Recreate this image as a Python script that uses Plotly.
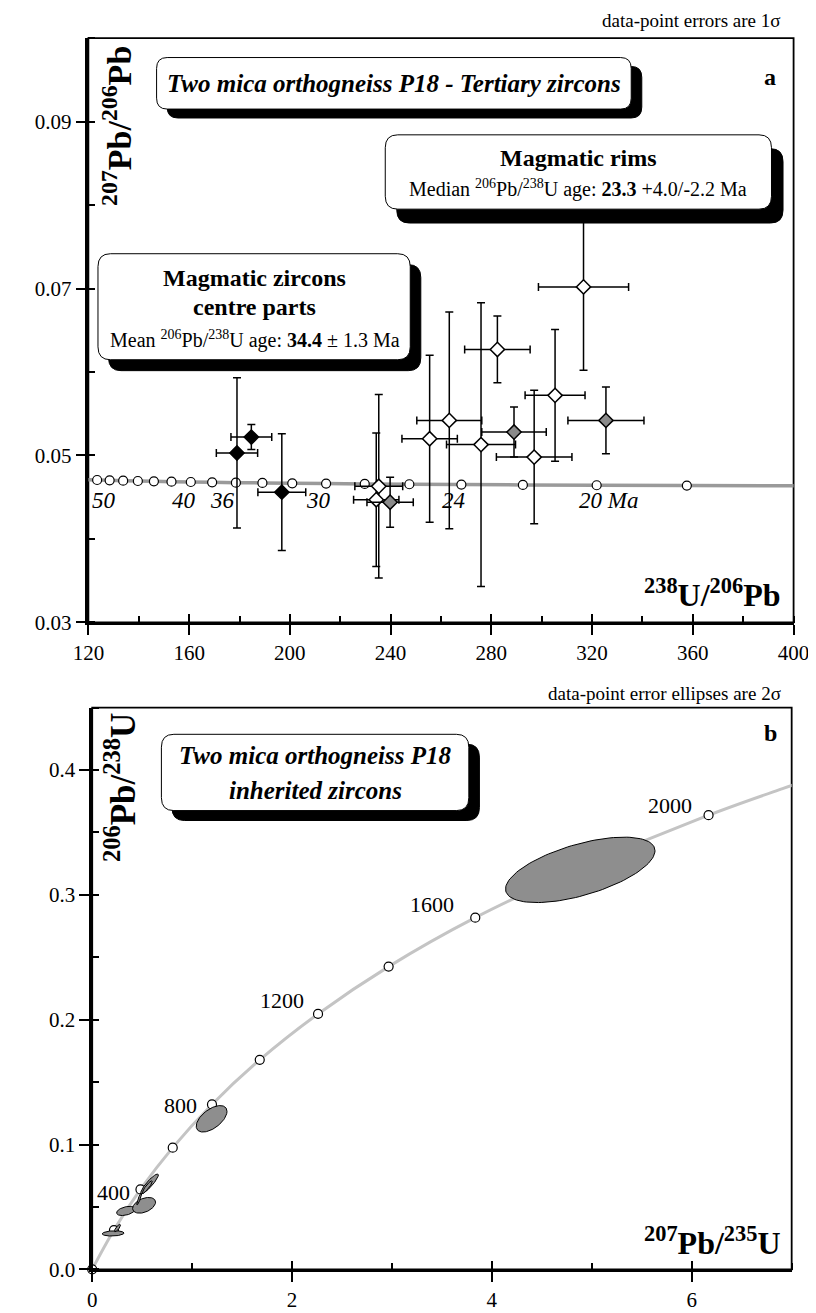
import numpy as np
import plotly.graph_objects as go

W, H = 816, 1313
FONT = "Liberation Serif"

# ---------------- Panel a data (Tera-Wasserburg) ----------------
conc_a_ages = [52, 50, 48, 46, 44, 42, 40, 38, 36, 34, 32, 30, 28, 26, 24, 22, 20, 18]
conc_a_x = [123.47, 128.43, 133.80, 139.64, 146.01, 152.99, 160.66, 169.14, 178.57,
            189.10, 200.95, 214.38, 229.73, 247.44, 268.10, 292.52, 321.82, 357.63]
conc_a_y = [0.047056, 0.047016, 0.046977, 0.046938, 0.046899, 0.046859, 0.046820,
            0.046781, 0.046742, 0.046703, 0.046664, 0.046625, 0.046586, 0.046548,
            0.046509, 0.046470, 0.046430, 0.046392]
conc_a_line_x = [118.88] + conc_a_x + [402.40]
conc_a_line_y = [0.047095] + conc_a_y + [0.046354]

age_lbl_a = ["50", "40", "36", "30", "24", "20 Ma"]
age_lbl_a_x = [126.1, 158.0, 173.3, 211.4, 264.8, 326.4]
age_lbl_a_y = [0.0446] * 6

# centre parts (black)
blk_x = [179.0, 184.7, 196.8]
blk_y = [0.0503, 0.0522, 0.0456]
blk_ex = [8.2, 8.1, 9.5]
blk_ey = [0.009, 0.0015, 0.007]
# grey
gry_x = [239.8, 289.0, 325.5]
gry_y = [0.0444, 0.0528, 0.0542]
gry_ex = [9.2, 12.8, 15.1]
gry_ey = [0.003, 0.003, 0.004]
# open (magmatic rims)
opn_x = [234.3, 235.3, 255.5, 263.3, 275.9, 282.4, 297.0, 305.3, 316.6]
opn_y = [0.0447, 0.0463, 0.0520, 0.0542, 0.0513, 0.0627, 0.0498, 0.0572, 0.0702]
opn_ex = [9.0, 9.5, 11.0, 12.9, 13.7, 13.0, 15.0, 11.9, 17.9]
opn_ey = [0.008, 0.011, 0.010, 0.013, 0.017, 0.004, 0.008, 0.0079, 0.010]

x_ticks_a = [120, 160, 200, 240, 280, 320, 360, 400]
y_ticks_a = [0.03, 0.05, 0.07, 0.09]

# ---------------- Panel b data (Wetherill concordia) ----------------
conc_b_ages = [0, 200, 400, 600, 800, 1000, 1200, 1400, 1600, 1800, 2000]
conc_b_x = [0.0, 0.2177, 0.4828, 0.8059, 1.1988, 1.6769, 2.2603, 2.9668, 3.8340, 4.9025, 6.169]
conc_b_y = [0.0, 0.0315, 0.0640, 0.0975, 0.1321, 0.1678, 0.2046, 0.2425, 0.2817, 0.3219, 0.3638]
conc_b_line_x = conc_b_x + [6.910, 7.068]
conc_b_line_y = conc_b_y + [0.3851, 0.3894]

age_lbl_b = ["400", "800", "1200", "1600", "2000"]
age_lbl_b_x = [0.394, 1.067, 2.135, 3.644, 6.02]
age_lbl_b_y = [0.0619, 0.1313, 0.215, 0.292, 0.3714]

# error ellipses: centre, 2-sigma half extents, correlation
ell_x = [4.885, 1.195, 0.209, 0.253, 0.337, 0.519, 0.471, 0.574, 0.551]
ell_y = [0.320, 0.1206, 0.0288, 0.0331, 0.0468, 0.0513, 0.0566, 0.0685, 0.0659]
ell_ex = [0.748, 0.154, 0.109, 0.030, 0.093, 0.115, 0.025, 0.088, 0.050]
ell_ey = [0.0262, 0.0106, 0.0021, 0.0030, 0.0037, 0.0063, 0.0050, 0.0079, 0.0050]
ell_rho = [0.585, 0.56, 0.15, 0.8, 0.4, 0.4, 0.9, 0.9, 0.9]

x_ticks_b = [0, 2, 4, 6]
y_ticks_b = [0.0, 0.1, 0.2, 0.3, 0.4]

# ---------------- geometry (pixels) ----------------
A_L, A_R, A_T, A_B = 67, 801, 30.5, 620
B_L, B_R, B_T, B_B = 71, 799, 706, 1273


def fx(v):
    return v / W


def fy(v):
    return 1 - v / H


fig = go.Figure()

# Panel a
fig.add_trace(go.Scatter(x=conc_a_line_x, y=conc_a_line_y, mode="lines",
                         line=dict(color="#9a9a9a", width=3.5, shape="spline"),
                         xaxis="x", yaxis="y", hoverinfo="skip"))
fig.add_trace(go.Scatter(x=conc_a_x, y=conc_a_y, mode="markers",
                         marker=dict(symbol="circle", size=9, color="white",
                                     line=dict(color="black", width=1.2)),
                         xaxis="x", yaxis="y", cliponaxis=False))


def pts(xs, ys, exs, eys, fill):
    return go.Scatter(x=xs, y=ys, mode="markers",
                      error_x=dict(type="data", array=exs, color="black", thickness=1.5, width=4),
                      error_y=dict(type="data", array=eys, color="black", thickness=1.5, width=4),
                      marker=dict(symbol="diamond", size=11, color=fill,
                                  line=dict(color="black", width=1.5)),
                      xaxis="x", yaxis="y")


fig.add_trace(pts(opn_x, opn_y, opn_ex, opn_ey, "white"))
fig.add_trace(pts(gry_x, gry_y, gry_ex, gry_ey, "#8a8a8a"))
fig.add_trace(pts(blk_x, blk_y, blk_ex, blk_ey, "black"))

# Panel b
fig.add_trace(go.Scatter(x=conc_b_line_x, y=conc_b_line_y, mode="lines",
                         line=dict(color="#c4c4c4", width=3, shape="spline"),
                         xaxis="x2", yaxis="y2", hoverinfo="skip"))
fig.add_trace(go.Scatter(x=conc_b_x, y=conc_b_y, mode="markers",
                         marker=dict(symbol="circle", size=9, color="white",
                                     line=dict(color="black", width=1.2)),
                         xaxis="x2", yaxis="y2", cliponaxis=False))
t = np.linspace(0, 2 * np.pi, 120)
for cx, cy, ex, ey, r in zip(ell_x, ell_y, ell_ex, ell_ey, ell_rho):
    ex_ = cx + ex * np.cos(t)
    ey_ = cy + ey * (r * np.cos(t) + np.sqrt(1 - r * r) * np.sin(t))
    fig.add_trace(go.Scatter(x=ex_, y=ey_, mode="lines", fill="toself",
                             fillcolor="#8e8e8e", line=dict(color="black", width=1),
                             xaxis="x2", yaxis="y2", hoverinfo="skip"))

# empty traces to activate the overlay axes that draw the inner half of crossing ticks
fig.add_trace(go.Scatter(x=[], y=[], xaxis="x3", yaxis="y", showlegend=False))
fig.add_trace(go.Scatter(x=[], y=[], xaxis="x4", yaxis="y2", showlegend=False))

# ---------------- boxes ----------------
def rrect(x0, y0, x1, y1, r):
    return (f"M {fx(x0+r)},{fy(y0)} L {fx(x1-r)},{fy(y0)} Q {fx(x1)},{fy(y0)} {fx(x1)},{fy(y0+r)} "
            f"L {fx(x1)},{fy(y1-r)} Q {fx(x1)},{fy(y1)} {fx(x1-r)},{fy(y1)} "
            f"L {fx(x0+r)},{fy(y1)} Q {fx(x0)},{fy(y1)} {fx(x0)},{fy(y1-r)} "
            f"L {fx(x0)},{fy(y0+r)} Q {fx(x0)},{fy(y0)} {fx(x0+r)},{fy(y0)} Z")


shapes = []
# panel frames (thin top/right border)
for (l, r_, tp, b) in [(A_L, A_R, A_T, A_B), (B_L, B_R, B_T, B_B)]:
    shapes.append(dict(type="rect", xref="paper", yref="paper",
                       x0=fx(l), x1=fx(r_), y0=fy(b), y1=fy(tp),
                       line=dict(color="black", width=1.8), fillcolor="rgba(0,0,0,0)", layer="below"))


def box(x0, y0, x1, y1, r, dx, dy):
    shapes.append(dict(type="path", path=rrect(x0 + dx, y0 + dy, x1 + dx, y1 + dy, r),
                       xref="paper", yref="paper", fillcolor="black",
                       line=dict(color="black", width=1)))
    shapes.append(dict(type="path", path=rrect(x0, y0, x1, y1, r),
                       xref="paper", yref="paper", fillcolor="white",
                       line=dict(color="black", width=1)))


box(138, 50, 632, 102, 11, 11, 9)        # title a
box(376, 128, 778, 203, 13, 12, 14)      # rims
box(77, 248, 402, 355, 13, 11, 11)       # centre parts
box(143, 733, 463, 810, 13, 11, 10)      # title b

ann = []


def txt(x, y, s, size, xanchor="center", yanchor="middle", angle=0):
    ann.append(dict(x=fx(x), y=fy(y), xref="paper", yref="paper", text=s, showarrow=False,
                    xanchor=xanchor, yanchor=yanchor, textangle=angle,
                    font=dict(family=FONT, size=size, color="black")))


txt(385, 76, "<b><i>Two mica orthogneiss P18 - Tertiary zircons</i></b>", 25)
txt(577, 151, "<b>Magmatic rims</b>", 24)
txt(577, 182, "Median <sup>206</sup>Pb/<sup>238</sup>U age: <b>23.3</b> +4.0/-2.2 Ma", 20)
txt(240, 272, "<b>Magmatic zircons</b>", 24)
txt(240, 302, "<b>centre parts</b>", 24)
txt(240, 335, "Mean <sup>206</sup>Pb/<sup>238</sup>U age: <b>34.4</b> ± 1.3 Ma", 20)
txt(303, 754, "<b><i>Two mica orthogneiss P18</i></b>", 25)
txt(303, 790, "<b><i>inherited zircons</i></b>", 25)

txt(790, 13, "data-point errors are 1σ", 19, xanchor="right")
txt(790, 692, "data-point error ellipses are 2σ", 19, xanchor="right")
txt(776, 70, "<b>a</b>", 24)
txt(777, 732, "<b>b</b>", 24)

txt(96, 36, "<b><sup>207</sup>Pb/<sup>206</sup>Pb</b>", 34, yanchor="top", angle=-90)
txt(790, 613, "<b><sup>238</sup>U/<sup>206</sup>Pb</b>", 32, xanchor="right", yanchor="bottom")
txt(100, 710, "<b><sup>206</sup>Pb/<sup>238</sup>U</b>", 35, yanchor="top", angle=-90)
txt(790, 1267, "<b><sup>207</sup>Pb/<sup>235</sup>U</b>", 32, xanchor="right", yanchor="bottom")

for s, x, y in zip(age_lbl_a, age_lbl_a_x, age_lbl_a_y):
    ann.append(dict(x=x, y=y, xref="x", yref="y", text=f"<i>{s}</i>", showarrow=False,
                    xanchor="center", yanchor="middle",
                    font=dict(family=FONT, size=23, color="black")))
for s, x, y in zip(age_lbl_b, age_lbl_b_x, age_lbl_b_y):
    ann.append(dict(x=x, y=y, xref="x2", yref="y2", text=s, showarrow=False,
                    xanchor="right", yanchor="middle",
                    font=dict(family=FONT, size=22, color="black")))

axis_common = dict(showline=True, linecolor="black", linewidth=2.5, mirror=False,
                   showgrid=False, zeroline=False, ticks="outside", ticklen=10,
                   tickwidth=2, tickcolor="black", ticklabeloverflow="allow",
                   tickfont=dict(family=FONT, size=21, color="black"))
minor_common = dict(ticks="inside", ticklen=7, tickwidth=1.5, tickcolor="black")
overlay_common = dict(showline=False, showgrid=False, zeroline=False, ticks="inside",
                      ticklen=8, tickwidth=2, tickcolor="black", showticklabels=False)

fig.update_layout(
    width=W, height=H, margin=dict(l=0, r=0, t=0, b=0),
    paper_bgcolor="white", plot_bgcolor="white", showlegend=False,
    font=dict(family=FONT, color="black"),
    xaxis=dict(domain=[fx(A_L), fx(A_R)], range=[119.99, 400.01], anchor="y",
               tickvals=x_ticks_a, minor=dict(dtick=20, **minor_common), **axis_common),
    yaxis=dict(domain=[fy(A_B), fy(A_T)], range=[0.03, 0.10], anchor="x",
               tickvals=y_ticks_a, tickformat=".2f",
               minor=dict(dtick=0.01, **minor_common), **axis_common),
    xaxis3=dict(overlaying="x", anchor="y", range=[119.99, 400.01], tickvals=x_ticks_a,
                side="bottom", **overlay_common),
    xaxis2=dict(domain=[fx(B_L), fx(B_R)], range=[0, 7.001], anchor="y2",
                tickvals=x_ticks_b, minor=dict(dtick=1, **minor_common), **axis_common),
    yaxis2=dict(domain=[fy(B_B), fy(B_T)], range=[0, 0.45], anchor="x2",
                tickvals=y_ticks_b, tickformat=".1f",
                minor=dict(dtick=0.05, **minor_common), **axis_common),
    xaxis4=dict(overlaying="x2", anchor="y2", range=[0, 7.001], tickvals=x_ticks_b,
                side="bottom", **overlay_common),
    shapes=shapes, annotations=ann,
)

fig.write_html("out.html")
